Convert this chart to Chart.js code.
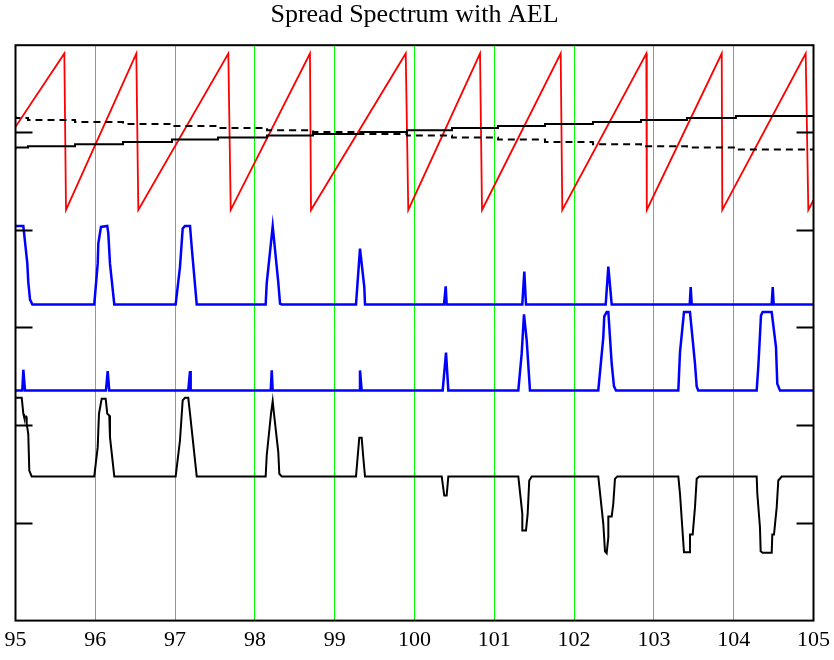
<!DOCTYPE html>
<html>
<head>
<meta charset="utf-8">
<script src="https://cdn.jsdelivr.net/npm/chart.js@4.4.1/dist/chart.umd.min.js"></script>
<style>
  html, body { margin: 0; padding: 0; background: #fff; }
</style>
</head>
<body>
<canvas id="chart" width="834" height="660"></canvas>
<script>
// x axis range and tick marks
const xTicks = [95, 96, 97, 98, 99, 100, 101, 102, 103, 104, 105];
const yTicks = [1, 2, 3, 4, 5];

// red sawtooth
const sawX = [95.0, 95.612, 95.633, 96.514, 96.539, 97.667, 97.697, 98.690, 98.703, 99.890, 99.922,
  100.821, 100.846, 101.832, 101.852, 102.905, 102.911, 103.850, 103.857, 104.902, 104.935, 105.0];
const sawY = [5.05, 5.80, 4.20, 5.80, 4.20, 5.80, 4.20, 5.80, 4.20, 5.80, 4.20,
  5.80, 4.20, 5.80, 4.20, 5.80, 4.20, 5.80, 4.20, 5.80, 4.20, 4.30];

// slow stepped lines (solid rises, dashed falls)
const stepX = [95.0, 95.157, 95.746, 96.347, 96.961, 97.538, 98.152, 98.728, 99.317, 99.906,
  100.470, 101.046, 101.635, 102.236, 102.838, 103.414, 104.028, 104.630, 105.0];
const riseY = [4.818, 4.838, 4.852, 4.872, 4.896, 4.920, 4.941, 4.961, 4.977, 4.998,
  5.015, 5.039, 5.059, 5.080, 5.100, 5.121, 5.141, 5.162, 5.162];
const fallY = [5.162, 5.141, 5.121, 5.100, 5.080, 5.059, 5.039, 5.015, 4.998, 4.977,
  4.961, 4.941, 4.920, 4.896, 4.872, 4.852, 4.838, 4.818, 4.818];

// upper blue trace
const earlyX = [95.0, 95.098, 95.148, 95.160, 95.182, 95.211,
  95.987, 96.030, 96.038, 96.071, 96.150, 96.163, 96.184, 96.238,
  97.007, 97.061, 97.095, 97.124, 97.187, 97.208, 97.271,
  98.135, 98.148, 98.223, 98.293, 98.315, 98.336,
  99.267, 99.317, 99.371, 99.380,
  100.370, 100.391, 100.403,
  101.351, 101.376, 101.397,
  102.396, 102.429, 102.471,
  103.449, 103.461, 103.474,
  104.476, 104.489, 104.501, 105.0];
const earlyY = [4.036, 4.036, 3.654, 3.463, 3.283, 3.234,
  3.234, 3.651, 3.859, 4.026, 4.036, 3.961, 3.651, 3.234,
  3.234, 3.616, 4.009, 4.036, 4.036, 3.821, 3.234,
  3.234, 3.449, 4.033, 3.460, 3.241, 3.234,
  3.234, 3.805, 3.411, 3.234,
  3.234, 3.419, 3.234,
  3.234, 3.570, 3.234,
  3.234, 3.620, 3.234,
  3.234, 3.411, 3.234,
  3.234, 3.411, 3.234, 3.234];

// lower blue trace
const lateX = [95.0, 95.085, 95.098, 95.119,
  96.134, 96.155, 96.175,
  97.165, 97.187, 97.195,
  98.198, 98.211, 98.223,
  99.308, 99.317, 99.338,
  100.353, 100.395, 100.424,
  101.301, 101.343, 101.372, 101.406, 101.447,
  102.303, 102.366, 102.378, 102.408, 102.429, 102.471, 102.500, 102.525,
  103.306, 103.327, 103.377, 103.452, 103.515, 103.536, 103.556,
  104.288, 104.308, 104.329, 104.342, 104.363, 104.476, 104.530, 104.546, 104.580, 105.0];
const lateY = [2.354, 2.354, 2.566, 2.354,
  2.354, 2.552, 2.354,
  2.354, 2.552, 2.354,
  2.354, 2.559, 2.354,
  2.354, 2.559, 2.354,
  2.354, 2.740, 2.354,
  2.354, 2.730, 3.132, 2.866, 2.354,
  2.354, 2.900, 3.112, 3.156, 3.156, 2.627, 2.395, 2.354,
  2.354, 2.746, 3.156, 3.156, 2.627, 2.395, 2.354,
  2.354, 2.593, 2.917, 3.122, 3.156, 3.156, 2.797, 2.423, 2.354, 2.354];

// black error trace (early minus late)
const errX = [95.0, 95.078, 95.098, 95.106, 95.132, 95.140, 95.160, 95.173, 95.203,
  95.987, 96.030, 96.046, 96.080, 96.130, 96.150, 96.175, 96.184, 96.238,
  97.007, 97.061, 97.095, 97.124, 97.165, 97.187, 97.271,
  98.135, 98.148, 98.202, 98.223, 98.239, 98.293, 98.306, 98.336,
  99.267, 99.308, 99.338, 99.358, 99.380,
  100.341, 100.373, 100.403, 100.424,
  101.301, 101.351, 101.351, 101.397, 101.418, 101.438, 101.469,
  102.303, 102.366, 102.387, 102.408, 102.429, 102.429, 102.471, 102.491, 102.512, 102.541,
  103.306, 103.327, 103.377, 103.452, 103.452, 103.486, 103.515, 103.536, 103.569,
  104.288, 104.296, 104.329, 104.338, 104.363, 104.476, 104.484, 104.505, 104.539, 104.559, 104.602, 105.0];
const errY = [2.279, 2.279, 2.116, 2.088, 2.088, 2.013, 1.911, 1.535, 1.474,
  1.474, 1.774, 2.116, 2.269, 2.269, 2.116, 2.098, 1.876, 1.474,
  1.474, 1.842, 2.252, 2.279, 2.279, 2.116, 1.474,
  1.474, 1.689, 2.116, 2.245, 2.116, 1.723, 1.502, 1.474,
  1.474, 1.870, 1.870, 1.671, 1.474,
  1.474, 1.279, 1.279, 1.474,
  1.474, 1.092, 0.921, 0.921, 1.092, 1.433, 1.474,
  1.474, 0.990, 0.709, 0.689, 0.853, 1.064, 1.064, 1.194, 1.450, 1.474,
  1.474, 1.297, 0.699, 0.699, 0.880, 0.880, 1.160, 1.450, 1.474,
  1.474, 1.297, 0.955, 0.709, 0.693, 0.693, 0.880, 0.880, 1.160, 1.433, 1.474, 1.474];

function pts(xs, ys) {
  return xs.map((x, i) => ({ x: x, y: ys[i] }));
}

// frame and inside tick marks like the original plot
const frame = {
  id: "frame",
  afterDatasetsDraw(chart) {
    const { ctx, chartArea: a, scales } = chart;
    ctx.save();
    ctx.strokeStyle = "#000";
    ctx.lineWidth = 2;
    ctx.strokeRect(a.left, a.top, a.right - a.left, a.bottom - a.top);
    yTicks.forEach(v => {
      const y = Math.round(scales.y.getPixelForValue(v)) + 0.5;
      ctx.beginPath();
      ctx.moveTo(a.left, y);
      ctx.lineTo(a.left + 17, y);
      ctx.moveTo(a.right - 17, y);
      ctx.lineTo(a.right, y);
      ctx.stroke();
    });
    ctx.restore();
  }
};

const serif = "'Liberation Serif', 'DejaVu Serif', serif";

new Chart(document.getElementById("chart"), {
  type: "line",
  data: {
    datasets: [
      { data: pts(stepX, riseY), borderColor: "#000", borderWidth: 2, stepped: "after" },
      { data: pts(stepX, fallY), borderColor: "#000", borderWidth: 2, stepped: "after", borderDash: [7, 5] },
      { data: pts(errX, errY), borderColor: "#000", borderWidth: 2 },
      { data: pts(earlyX, earlyY), borderColor: "#0000ff", borderWidth: 2.5 },
      { data: pts(lateX, lateY), borderColor: "#0000ff", borderWidth: 2.5 },
      { data: pts(sawX, sawY), borderColor: "#ff0000", borderWidth: 1.8 }
    ]
  },
  options: {
    responsive: false,
    animation: false,
    elements: { point: { radius: 0 }, line: { tension: 0, fill: false } },
    layout: { padding: { left: 15.5, right: 20.5, top: 0, bottom: 1 } },
    plugins: {
      legend: { display: false },
      tooltip: { enabled: false },
      title: {
        display: true,
        text: "Spread Spectrum with AEL",
        color: "#000",
        font: { family: serif, size: 26, weight: "normal", lineHeight: 1.2 },
        padding: { top: 0, bottom: 14 }
      }
    },
    scales: {
      x: {
        type: "linear",
        min: 95,
        max: 105,
        afterBuildTicks: axis => { axis.ticks = xTicks.map(v => ({ value: v })); },
        afterFit: axis => { axis.paddingLeft = 0; axis.paddingRight = 0; },
        ticks: {
          autoSkip: false,
          maxRotation: 0,
          color: "#000",
          padding: 6,
          font: { family: serif, size: 22 }
        },
        grid: { color: "#00ff00", lineWidth: 1, drawTicks: false },
        border: { display: false }
      },
      y: {
        type: "linear",
        min: 0,
        max: 5.885,
        display: false
      }
    }
  },
  plugins: [frame]
});
</script>
</body>
</html>
